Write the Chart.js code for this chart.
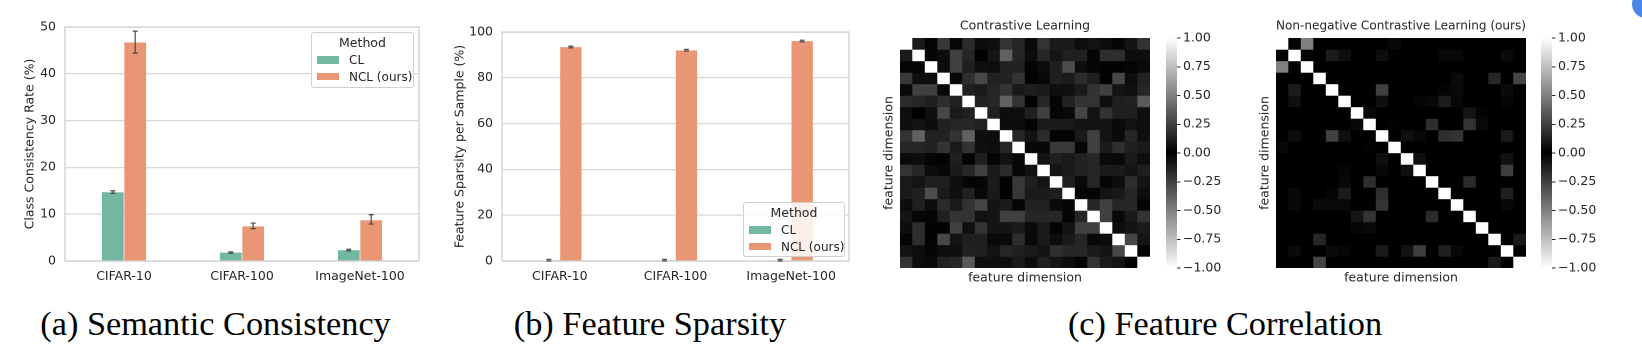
<!DOCTYPE html>
<html><head><meta charset="utf-8">
<script src="https://cdn.jsdelivr.net/npm/chart.js@4.4.1/dist/chart.umd.min.js"></script>
<style>
html,body{margin:0;padding:0;background:#fff;width:1642px;height:347px;overflow:hidden;}
#stage{position:absolute;left:0;top:0;width:1642px;height:347px;}
canvas{position:absolute;}
.legend{position:absolute;border:1px solid #d0d0d0;border-radius:3px;background:rgba(255,255,255,0.85);font-family:'DejaVu Sans';color:#262626;box-sizing:border-box;}
.legend .t{position:absolute;left:0;right:0;text-align:center;font-size:12.5px;line-height:15px;}
.legend .sw{position:absolute;width:22px;height:7.5px;}
.legend .lb{position:absolute;font-size:12px;line-height:14px;white-space:nowrap;}
.cap{position:absolute;font-family:'Liberation Serif';font-size:34.3px;line-height:34px;color:#000;white-space:nowrap;transform:translateX(-50%);}
#dot{position:absolute;left:1632px;top:-10px;width:28px;height:28px;border-radius:50%;background:#4a86e8;}
</style></head>
<body>
<div id="stage">
  <canvas id="cA" style="left:0px;top:0px"></canvas>
  <canvas id="cB" style="left:430px;top:0px"></canvas>
  <canvas id="h1" style="left:874px;top:0px"></canvas>
  <canvas id="b1" style="left:1156px;top:0px"></canvas>
  <canvas id="h2" style="left:1250px;top:0px"></canvas>
  <canvas id="b2" style="left:1531px;top:0px"></canvas>
  <div class="cap" style="left:215.5px;top:305.7px">(a) Semantic Consistency</div>
  <div class="cap" style="left:650px;top:305.7px">(b) Feature Sparsity</div>
  <div class="cap" style="left:1225px;top:305.7px">(c) Feature Correlation</div>
</div>
<div id="dot"></div>
<script>
// ---------------- data ----------------
const categories = ['CIFAR-10', 'CIFAR-100', 'ImageNet-100'];
const methods = ['CL', 'NCL (ours)'];
const methodColors = ['rgb(113,183,161)', 'rgb(233,150,117)'];

const consistencyCL = [14.7, 1.8, 2.3];
const consistencyNCL = [46.7, 7.4, 8.7];
const consistencyCLErr = [[14.45, 15.0], [1.65, 1.95], [2.15, 2.5]];
const consistencyNCLErr = [[44.4, 49.1], [6.9, 8.1], [7.9, 9.9]];
const consistencyTicks = [0, 10, 20, 30, 40, 50];

const sparsityCL = [0.2, 0.2, 0.2];
const sparsityNCL = [93.4, 92.0, 96.0];
const sparsityCLErr = [[0, 0.7], [0, 0.7], [0, 0.7]];
const sparsityNCLErr = [[93.1, 93.8], [91.7, 92.4], [95.7, 96.4]];
const sparsityTicks = [0, 20, 40, 60, 80, 100];

const featureDims = ['0','1','2','3','4','5','6','7','8','9','10','11','12','13','14','15','16','17','18','19'];
const colorbarTicks = [1.00, 0.75, 0.50, 0.25, 0.00, -0.25, -0.50, -0.75, -1.00];

const corrCL = [
 [1, .10, .02, .22, .03, .17, .05, .06, .20, .15, .04, .20, .10, .10, .05, .08, .05, .02, .08, .20],
 [.10, 1, .02, .05, .25, .15, .00, .08, .38, .15, .05, .15, .08, .12, .12, .02, .18, .18, .05, .05],
 [.02, .02, 1, .05, .25, .12, .06, .05, .13, .13, .02, .05, .12, .30, .05, .02, .01, .01, .02, .04],
 [.22, .05, .05, 1, .03, .18, .28, .13, .13, .20, .01, .03, .12, .10, .17, .12, .01, .28, .05, .13],
 [.03, .25, .25, .03, 1, .13, .10, .15, .20, .10, .12, .10, .06, .06, .10, .20, .25, .08, .06, .15],
 [.17, .15, .12, .18, .13, 1, .13, .15, .38, .20, .01, .15, .02, .13, .20, .20, .06, .12, .13, .35],
 [.05, .00, .06, .28, .10, .13, 1, .13, .05, .06, .12, .25, .02, .03, .27, .07, .20, .12, .12, .06],
 [.06, .08, .05, .13, .15, .15, .13, 1, .05, .05, .02, .10, .10, .10, .08, .08, .08, .04, .07, .06],
 [.20, .38, .13, .13, .20, .38, .05, .05, 1, .15, .07, .17, .01, .01, .10, .25, .08, .04, .15, .06],
 [.15, .15, .13, .20, .10, .20, .06, .05, .15, 1, .03, .03, .22, .22, .02, .25, .10, .18, .12, .10],
 [.04, .05, .02, .01, .12, .01, .12, .02, .07, .03, 1, .07, .12, .10, .13, .15, .04, .03, .10, .05],
 [.20, .15, .05, .03, .10, .15, .25, .10, .17, .03, .07, 1, .08, .10, .13, .15, .10, .10, .08, .12],
 [.10, .08, .12, .12, .06, .02, .02, .10, .01, .22, .12, .08, 1, .12, .04, .15, .02, .05, .18, .08],
 [.10, .12, .30, .10, .06, .13, .03, .10, .01, .22, .10, .10, .12, 1, .02, .02, .08, .10, .15, .05],
 [.05, .12, .05, .17, .10, .20, .27, .08, .10, .02, .13, .13, .04, .02, 1, .15, .25, .15, .15, .02],
 [.08, .02, .02, .12, .20, .20, .07, .08, .25, .25, .15, .15, .15, .02, .15, 1, .25, .03, .10, .20],
 [.05, .18, .01, .01, .25, .06, .20, .08, .08, .10, .04, .10, .02, .08, .25, .25, 1, .05, .08, .10],
 [.02, .18, .01, .28, .08, .12, .12, .04, .04, .18, .03, .10, .05, .10, .15, .03, .05, 1, .28, .08],
 [.08, .05, .02, .05, .06, .13, .12, .07, .15, .12, .10, .08, .18, .15, .15, .10, .08, .28, 1, .01],
 [.20, .05, .04, .13, .15, .35, .06, .06, .06, .10, .05, .12, .08, .05, .02, .20, .10, .08, .01, 1]
];

const corrNCL = [
 [1, .02, .50, 0, 0, 0, 0, 0, 0, .03, 0, 0, 0, 0, 0, 0, 0, 0, 0, 0],
 [.02, 1, .02, 0, .11, .06, 0, 0, .05, 0, 0, 0, 0, .03, .03, 0, 0, 0, .04, 0],
 [.50, .02, 1, 0, 0, 0, 0, 0, 0, 0, 0, 0, 0, 0, 0, 0, 0, 0, 0, 0],
 [0, 0, 0, 1, 0, 0, 0, 0, 0, 0, 0, 0, 0, 0, .04, 0, 0, .15, 0, .27],
 [0, .11, 0, 0, 1, 0, 0, 0, .25, 0, 0, 0, 0, .02, .04, 0, 0, 0, .04, 0],
 [0, .06, 0, 0, 0, 1, 0, 0, .06, 0, 0, .02, .03, .11, .03, 0, 0, 0, .02, 0],
 [0, 0, 0, 0, 0, 0, 1, .03, 0, 0, 0, 0, 0, 0, 0, .08, .02, 0, 0, 0],
 [0, 0, 0, 0, 0, 0, .03, 1, 0, .01, 0, 0, .18, 0, 0, .20, .04, 0, 0, 0],
 [0, .05, 0, 0, .25, .06, 0, 0, 1, 0, .06, .03, 0, .18, .20, 0, 0, 0, .10, 0],
 [.03, 0, 0, 0, 0, 0, 0, .01, 0, 1, 0, 0, 0, 0, 0, 0, 0, 0, 0, 0],
 [0, 0, 0, 0, 0, 0, 0, 0, .06, 0, 1, .06, 0, 0, 0, 0, 0, 0, .07, 0],
 [0, 0, 0, 0, 0, .02, 0, 0, .03, 0, .06, 1, 0, 0, 0, 0, 0, 0, .24, 0],
 [0, 0, 0, 0, 0, .03, 0, .18, 0, 0, 0, 0, 1, 0, 0, .17, 0, 0, 0, 0],
 [0, .03, 0, 0, .02, .11, 0, 0, .18, 0, 0, 0, 0, 1, 0, 0, 0, 0, .12, 0],
 [0, .03, 0, .04, .04, .03, 0, 0, .20, 0, 0, 0, 0, 0, 1, 0, 0, 0, .03, 0],
 [0, 0, 0, 0, 0, 0, .08, .20, 0, 0, 0, 0, .17, 0, 0, 1, 0, 0, 0, 0],
 [0, 0, 0, 0, 0, 0, .02, .04, 0, 0, 0, 0, 0, 0, 0, 0, 1, 0, 0, 0],
 [0, 0, 0, .15, 0, 0, 0, 0, 0, 0, 0, 0, 0, 0, 0, 0, 0, 1, 0, .10],
 [0, .04, 0, 0, .04, .02, 0, 0, .10, 0, .07, .24, 0, .12, .03, 0, 0, 0, 1, 0],
 [0, 0, 0, .27, 0, 0, 0, 0, 0, 0, 0, 0, 0, 0, 0, 0, 0, .10, 0, 1]
];

// ---------------- setup ----------------
Chart.defaults.font.family = "'DejaVu Sans'";
Chart.defaults.color = '#262626';
const TXT = '#262626';
const FS = 12.5;

function grayOf(v) {
  const g = Math.round(Math.min(1, Math.abs(v)) * 255);
  return 'rgb(' + g + ',' + g + ',' + g + ')';
}

function sizeCanvas(id, w, h) {
  const c = document.getElementById(id);
  c.width = w; c.height = h;
  c.style.width = w + 'px'; c.style.height = h + 'px';
  return c;
}

const framePlugin = {
  id: 'frame',
  beforeDatasetsDraw(chart, args, opts) {
    if (!opts || !opts.color) return;
    const a = chart.chartArea, ctx = chart.ctx;
    ctx.save();
    if (opts.fill) { ctx.fillStyle = opts.fill; ctx.fillRect(a.left, a.top, a.right - a.left, a.bottom - a.top); }
    if (opts.color !== 'none') {
      ctx.strokeStyle = opts.color; ctx.lineWidth = opts.width || 1;
      ctx.strokeRect(a.left, a.top, a.right - a.left, a.bottom - a.top);
    }
    ctx.restore();
  }
};

const errorBarPlugin = {
  id: 'errorBars',
  afterDatasetsDraw(chart) {
    const ctx = chart.ctx, ys = chart.scales.y;
    chart.data.datasets.forEach((ds, i) => {
      if (!ds.errors) return;
      const meta = chart.getDatasetMeta(i);
      meta.data.forEach((bar, j) => {
        const lo = ds.errors[j][0], hi = ds.errors[j][1];
        const x = bar.x, y1 = ys.getPixelForValue(lo), y2 = ys.getPixelForValue(hi);
        ctx.save();
        ctx.strokeStyle = 'rgba(70,70,70,0.9)';
        ctx.lineWidth = 1.3;
        ctx.beginPath();
        ctx.moveTo(x, y1); ctx.lineTo(x, y2);
        ctx.moveTo(x - 2.5, y1); ctx.lineTo(x + 2.5, y1);
        ctx.moveTo(x - 2.5, y2); ctx.lineTo(x + 2.5, y2);
        ctx.stroke();
        ctx.restore();
      });
    });
  }
};

function barChart(id, cl, ncl, clErr, nclErr, ticks, yTitle, pad, yWidth) {
  const canvas = sizeCanvas(id, 430, 300);
  return new Chart(canvas, {
    type: 'bar',
    data: {
      labels: categories,
      datasets: [
        { label: methods[0], data: cl, errors: clErr, backgroundColor: methodColors[0], borderWidth: 0 },
        { label: methods[1], data: ncl, errors: nclErr, backgroundColor: methodColors[1], borderWidth: 0 }
      ]
    },
    options: {
      responsive: false, animation: false, devicePixelRatio: 2,
      categoryPercentage: 0.38, barPercentage: 0.97,
      layout: { padding: pad },
      plugins: { legend: { display: false }, tooltip: { enabled: false }, frame: { color: '#cccccc', width: 1.2 } },
      scales: {
        x: {
          grid: { display: false, drawTicks: false, tickLength: 0 },
          border: { display: false },
          ticks: { font: { size: FS }, color: TXT, padding: 8, maxRotation: 0 },
          afterFit: s => { s.height = 39; }
        },
        y: {
          min: ticks[0], max: ticks[ticks.length - 1],
          afterBuildTicks: s => { s.ticks = ticks.map(v => ({ value: v })); },
          grid: { color: '#d9d9d9', lineWidth: 1.2, drawTicks: false },
          border: { display: false },
          ticks: { font: { size: FS }, color: TXT, padding: 9 },
          title: { display: true, text: yTitle, font: { size: FS }, color: TXT, padding: 0 },
          afterFit: s => { s.width = yWidth; }
        }
      }
    },
    plugins: [framePlugin, errorBarPlugin]
  });
}

barChart('cA', consistencyCL, consistencyNCL, consistencyCLErr, consistencyNCLErr, consistencyTicks,
  'Class Consistency Rate (%)', { left: 22.5, right: 11, top: 27, bottom: 0 }, 42.5);
barChart('cB', sparsityCL, sparsityNCL, sparsityCLErr, sparsityNCLErr, sparsityTicks,
  'Feature Sparsity per Sample (%)', { left: 22.5, right: 11, top: 32, bottom: 0 }, 49.5);

function heatmap(id, M, title) {
  const canvas = sizeCanvas(id, 290, 290);
  const datasets = M.map(row => ({
    data: row.map(() => 1),
    backgroundColor: row.map(grayOf),
    borderWidth: 0, inflateAmount: 0.2
  }));
  return new Chart(canvas, {
    type: 'bar',
    data: { labels: featureDims, datasets: datasets },
    options: {
      responsive: false, animation: false, devicePixelRatio: 2,
      categoryPercentage: 1, barPercentage: 1,
      layout: { padding: { left: 7.5, right: 14, top: 18.5, bottom: 4.5 } },
      plugins: { legend: { display: false }, tooltip: { enabled: false }, frame: { color: 'none', fill: '#000' } },
      scales: {
        x: {
          stacked: true,
          grid: { display: false }, border: { display: false }, ticks: { display: false },
          title: { display: true, text: 'feature dimension', font: { size: FS }, color: TXT, padding: 0 },
          afterFit: s => { s.height = 17.5; }
        },
        xTop: {
          axis: 'x', type: 'category', position: 'top',
          grid: { display: false }, border: { display: false }, ticks: { display: false },
          title: { display: true, text: title, font: { size: FS }, color: TXT, padding: 0 },
          afterFit: s => { s.height = 19.5; }
        },
        y: {
          stacked: true, min: 0, max: featureDims.length, reverse: true,
          grid: { display: false }, border: { display: false }, ticks: { display: false },
          title: { display: true, text: 'feature dimension', font: { size: FS }, color: TXT, padding: 0 },
          afterFit: s => { s.width = 18.5; }
        }
      }
    },
    plugins: [framePlugin]
  });
}

function colorbar(id) {
  const canvas = sizeCanvas(id, 75, 290);
  return new Chart(canvas, {
    type: 'bar',
    data: {
      labels: ['cb'],
      datasets: [{
        data: [[colorbarTicks[colorbarTicks.length - 1], colorbarTicks[0]]],
        borderWidth: 0,
        backgroundColor: c => {
          const a = c.chart.chartArea;
          if (!a) return '#888';
          const g = c.chart.ctx.createLinearGradient(0, a.top, 0, a.bottom);
          colorbarTicks.forEach(v => g.addColorStop((1 - v) / 2, grayOf(v)));
          return g;
        }
      }]
    },
    options: {
      responsive: false, animation: false, devicePixelRatio: 2,
      categoryPercentage: 1, barPercentage: 1,
      layout: { padding: { left: 10, right: 0, top: 38, bottom: 22 } },
      plugins: { legend: { display: false }, tooltip: { enabled: false } },
      scales: {
        x: { display: false },
        y: {
          position: 'right',
          min: colorbarTicks[colorbarTicks.length - 1], max: colorbarTicks[0],
          afterBuildTicks: s => { s.ticks = colorbarTicks.map(v => ({ value: v })); },
          grid: { drawOnChartArea: false, drawTicks: true, tickLength: 3.5, color: TXT, lineWidth: 1 },
          border: { display: false },
          ticks: { font: { size: FS }, color: TXT, padding: 2.5,
                   callback: v => (v < 0 ? '\u2212' : '') + Math.abs(v).toFixed(2) },
          afterFit: s => { s.width = 54; }
        }
      }
    }
  });
}

heatmap('h1', corrCL, 'Contrastive Learning');
colorbar('b1');
heatmap('h2', corrNCL, 'Non-negative Contrastive Learning (ours)');
colorbar('b2');

// legends (HTML overlay, built from the series)
function legend(left, top, w, h) {
  const d = document.createElement('div');
  d.className = 'legend';
  d.style.cssText = 'left:' + left + 'px;top:' + top + 'px;width:' + w + 'px;height:' + h + 'px;';
  let html = '<div class="t" style="top:' + (10.3 - 7.5 - 1) + 'px">Method</div>';
  const rows = [28, 44.5];
  methods.forEach((m, i) => {
    html += '<div class="sw" style="left:5px;top:' + (rows[i] - 3.75 - 1) + 'px;background:' + methodColors[i] + '"></div>';
    html += '<div class="lb" style="left:37px;top:' + (rows[i] - 7 - 1) + 'px">' + m + '</div>';
  });
  d.innerHTML = html;
  document.getElementById('stage').appendChild(d);
}
legend(311, 32, 103, 56);
legend(743, 202, 102, 55);
</script>
</body></html>
